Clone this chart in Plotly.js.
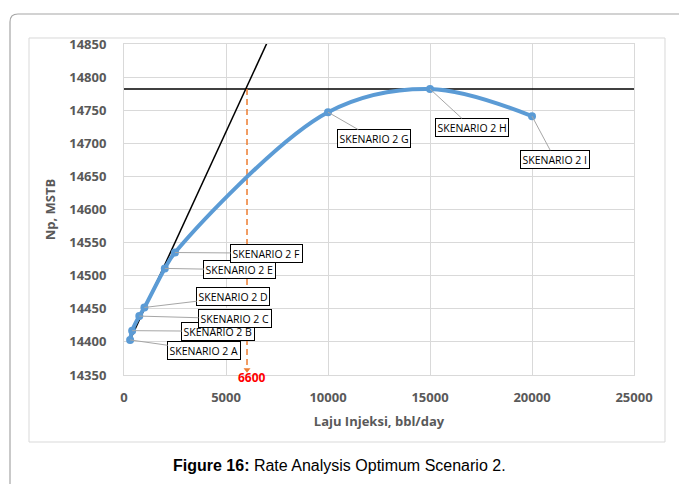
<!DOCTYPE html>
<html>
<head>
<meta charset="utf-8">
<script src="https://cdn.plot.ly/plotly-3.0.1.min.js"></script>
<style>html,body{margin:0;padding:0;background:#fff;}#chart{width:679px;height:484px;}</style>
</head>
<body>
<div id="chart"></div>
<script>
// ---- data ----
const scenarioLabels = ["SKENARIO 2 A","SKENARIO 2 B","SKENARIO 2 C","SKENARIO 2 D","SKENARIO 2 E","SKENARIO 2 F","SKENARIO 2 G","SKENARIO 2 H","SKENARIO 2 I"];
const injectionRate = [300, 400, 750, 1000, 2000, 2500, 10000, 15000, 20000];
const npMSTB = [14403, 14417, 14439, 14452, 14511, 14535, 14747, 14782, 14741];
const tangentX = [300, 7060];
const tangentY = [14403, 14855];
const plateauX = [0, 25000];
const plateauY = [14782, 14782];
const optimumX = [6030, 6030];
const optimumY = [14782, 14358];
const optimumLabel = "6600";
const xTicks = [0, 5000, 10000, 15000, 20000, 25000];
const yTicks = [14350, 14400, 14450, 14500, 14550, 14600, 14650, 14700, 14750, 14800, 14850];
// label box centres (data units)
const labelX = [3936, 4623, 5441, 5358, 5686, 6995, 12255, 17044, 21127];
const labelY = [14387, 14416, 14435, 14468, 14509, 14534, 14707, 14724, 14676];

const gray = "#595959";
const font = "Open Sans, Noto Sans, sans-serif";

const traces = [
  {x: plateauX, y: plateauY, mode: "lines", line: {color: "#000", width: 1.5}, hoverinfo: "skip"},
  {x: tangentX, y: tangentY, mode: "lines", line: {color: "#000", width: 1.5}, hoverinfo: "skip"},
  {x: optimumX, y: optimumY, mode: "lines", line: {color: "#ED7D31", width: 1.5, dash: "6px,4px"}, hoverinfo: "skip"},
  {x: [optimumX[1]], y: [optimumY[1]], mode: "markers", marker: {symbol: "triangle-down", size: 6, color: "#ED7D31"}, cliponaxis: false, hoverinfo: "skip"},
  {x: injectionRate, y: npMSTB, mode: "lines+markers", line: {color: "#5B9BD5", width: 4, shape: "spline", smoothing: 1}, marker: {color: "#5B9BD5", size: 8}}
];

const annotations = scenarioLabels.map((t, i) => ({
  x: injectionRate[i], y: npMSTB[i], xref: "x", yref: "y",
  ax: labelX[i], ay: labelY[i], axref: "x", ayref: "y",
  text: t, showarrow: true, arrowhead: 0, arrowwidth: 1, arrowcolor: "#A6A6A6",
  standoff: 0, startstandoff: 0,
  font: {family: font, size: 10.5, color: "#000"},
  bgcolor: "#fff", bordercolor: "#000", borderwidth: 1, borderpad: 1.5
}));
annotations.push({
  x: (252 - 124) / 510, y: (375 - 377) / 331, xref: "paper", yref: "paper", yanchor: "middle", xanchor: "center",
  text: "<b>" + optimumLabel + "</b>", showarrow: false,
  font: {family: font, size: 12, color: "#FF0000"}
});
annotations.push({
  x: 0.4216, y: -0.272, xref: "paper", yref: "paper", yanchor: "middle", xanchor: "center", showarrow: false,
  text: "<b>Figure 16:</b> Rate Analysis Optimum Scenario 2.",
  font: {family: "Liberation Sans, Arial, sans-serif", size: 16, color: "#000"}
});

const layout = {
  width: 679, height: 484,
  margin: {l: 124, r: 45, t: 44, b: 109},
  paper_bgcolor: "#fff", plot_bgcolor: "#fff",
  showlegend: false,
  xaxis: {
    range: [0, 25000], tickvals: xTicks, ticktext: xTicks.map(String),
    showgrid: true, gridcolor: "#D9D9D9", zeroline: false,
    showline: true, linecolor: "#D9D9D9", mirror: true,
    ticklabelstandoff: 10,
    tickfont: {family: font, size: 13, color: gray, weight: "bold"},
    title: {text: "<b>Laju Injeksi, bbl/day</b>", font: {family: font, size: 13, color: gray}, standoff: 12}
  },
  yaxis: {
    range: [14350, 14850], tickvals: yTicks, ticktext: yTicks.map(String),
    showgrid: true, gridcolor: "#D9D9D9", zeroline: false,
    showline: true, linecolor: "#D9D9D9", mirror: true,
    ticklabelstandoff: 14,
    tickfont: {family: font, size: 13, color: gray, weight: "bold"},
    title: {text: "<b>Np, MSTB</b>", font: {family: font, size: 13, color: gray}, standoff: 10}
  },
  annotations: annotations,
  shapes: [
    {type: "rect", xref: "paper", yref: "paper", x0: -0.18627, x1: 1.06078, y0: -0.20242, y1: 1.01813,
     line: {color: "#D9D9D9", width: 1}, layer: "below"},
    {type: "path", xref: "paper", yref: "paper",
     path: "M -0.22353,-0.34743 L -0.22353,1.06646 Q -0.22353,1.09063 -0.20784,1.09063 L 1.10980,1.09063",
     line: {color: "#A6A6A6", width: 1.2}, layer: "below"}
  ]
};

Plotly.newPlot("chart", traces, layout, {staticPlot: true, displayModeBar: false});
</script>
</body>
</html>
